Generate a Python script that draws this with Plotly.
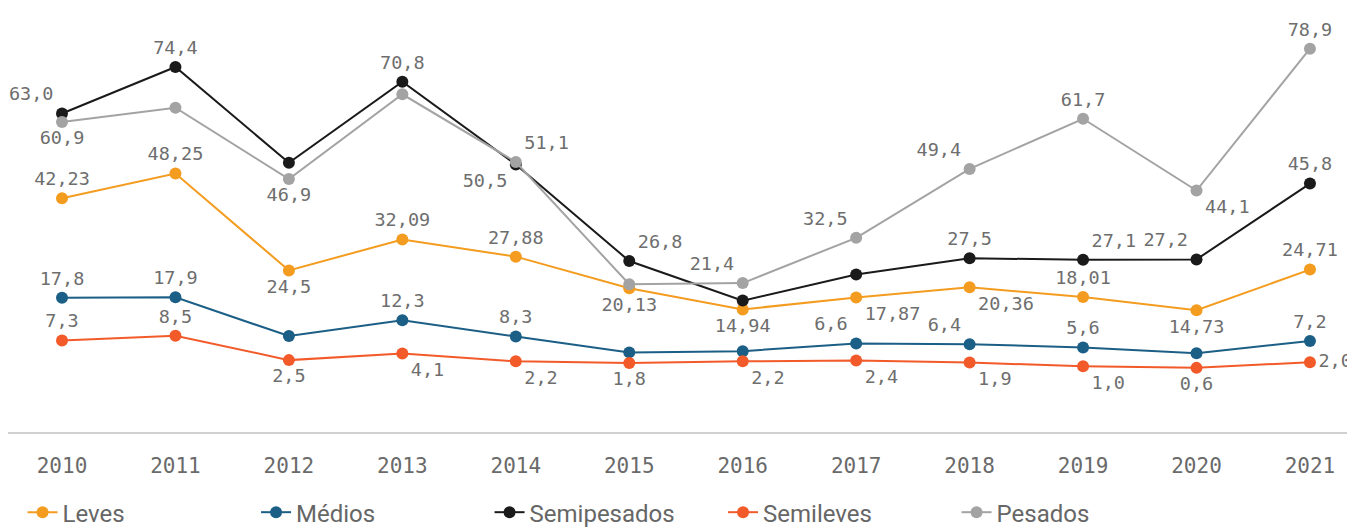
import plotly.graph_objects as go

# Dados
anos = [2010, 2011, 2012, 2013, 2014, 2015, 2016, 2017, 2018, 2019, 2020, 2021]

leves = [42.23, 48.25, 24.5, 32.09, 27.88, 20.13, 14.94, 17.87, 20.36, 18.01, 14.73, 24.71]
medios = [17.8, 17.9, 8.4, 12.3, 8.3, 4.4, 4.7, 6.6, 6.4, 5.6, 4.2, 7.2]
semipesados = [63.0, 74.4, 50.9, 70.8, 50.5, 26.8, 17.1, 23.5, 27.5, 27.1, 27.2, 45.8]
semileves = [7.3, 8.5, 2.5, 4.1, 2.2, 1.8, 2.2, 2.4, 1.9, 1.0, 0.6, 2.0]
pesados = [60.9, 64.4, 46.9, 67.7, 51.1, 21.1, 21.4, 32.5, 49.4, 61.7, 44.1, 78.9]

# rótulos visíveis (os outros ficam escondidos no original)
mostrar_leves = [1, 1, 1, 1, 1, 1, 1, 1, 1, 1, 1, 1]
mostrar_medios = [1, 1, 0, 1, 1, 0, 0, 1, 1, 1, 0, 1]
mostrar_semipesados = [1, 1, 0, 1, 1, 1, 0, 0, 1, 1, 1, 1]
mostrar_semileves = [1, 1, 1, 1, 1, 1, 1, 1, 1, 1, 1, 1]
mostrar_pesados = [1, 0, 1, 0, 1, 0, 1, 1, 1, 1, 1, 1]

pos_leves = ['top center', 'top center', 'bottom center', 'top center', 'top center', 'bottom center',
             'bottom center', 'bottom right', 'bottom right', 'top center', 'bottom center', 'top center']
pos_medios = ['top center', 'top center', 'top center', 'top center', 'top center', 'top center',
              'top center', 'top left', 'top left', 'top center', 'top center', 'top center']
pos_semipesados = ['top left', 'top center', 'top center', 'top center', 'bottom left', 'top right',
                   'top center', 'top center', 'top center', 'top right', 'top left', 'top center']
pos_semileves = ['top center', 'top center', 'bottom center', 'bottom right', 'bottom right', 'bottom center',
                 'bottom right', 'bottom right', 'bottom right', 'bottom right', 'bottom center', 'middle right']
pos_pesados = ['bottom center', 'top center', 'bottom center', 'top center', 'top right', 'top center',
               'top left', 'top left', 'top left', 'top center', 'bottom right', 'top center']


def rotulos(valores, mostrar):
    return [(str(v).replace('.', ',') if m else '') for v, m in zip(valores, mostrar)]


series = [
    ('Leves', leves, mostrar_leves, pos_leves, '#F39C1F'),
    ('Médios', medios, mostrar_medios, pos_medios, '#1B5E86'),
    ('Semipesados', semipesados, mostrar_semipesados, pos_semipesados, '#1A1A1A'),
    ('Semileves', semileves, mostrar_semileves, pos_semileves, '#F25A2A'),
    ('Pesados', pesados, mostrar_pesados, pos_pesados, '#A3A3A3'),
]

fig = go.Figure()

for nome, valores, mostrar, pos, cor in series:
    fig.add_trace(go.Scatter(
        x=anos, y=valores, name=nome,
        mode='lines+markers+text',
        line=dict(color=cor, width=2),
        marker=dict(color=cor, size=12),
        text=rotulos(valores, mostrar),
        textposition=pos,
        textfont=dict(family='DejaVu Sans Mono', size=18.5, color='#6E6E6E'),
        cliponaxis=False,
        hoverinfo='skip',
    ))

# a página tem 8px de margem no body, por isso tudo está deslocado
fig.update_layout(
    width=1355,
    height=535,
    paper_bgcolor='white',
    plot_bgcolor='white',
    margin=dict(l=0, r=8, t=0, b=111),
    showlegend=True,
    legend=dict(
        orientation='h',
        x=0.0108, y=-0.137, xanchor='left', yanchor='top',
        font=dict(family='Roboto', size=24, color='#666666'),
        entrywidth=188.5, entrywidthmode='pixels',
        itemclick=False,
    ),
    xaxis=dict(
        range=[2009.524, 2021.397],
        tickvals=anos,
        ticktext=[str(a) for a in anos],
        showgrid=False, zeroline=False,
        showline=True, linecolor='#D0D0D0', linewidth=2,
        ticks='outside', ticklen=14, tickcolor='rgba(0,0,0,0)',
        tickfont=dict(family='DejaVu Sans Mono', size=21, color='#6A6A6A'),
    ),
    yaxis=dict(
        range=[-15.13, 88.87],
        visible=False,
    ),
)

fig.write_html('out.html')
